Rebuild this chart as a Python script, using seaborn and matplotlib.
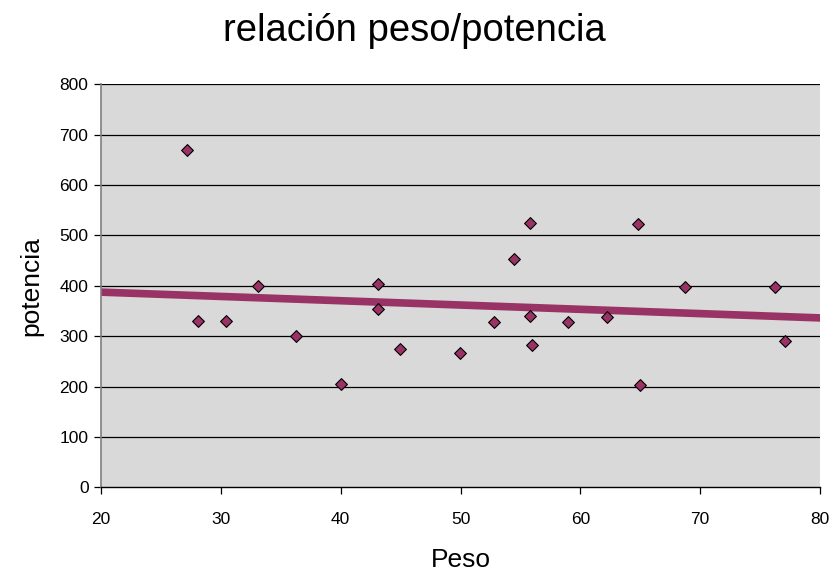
import numpy as np
import pandas as pd
import matplotlib
matplotlib.use("Agg")
import matplotlib.pyplot as plt
import seaborn as sns

peso = [27.15, 28.07, 30.46, 33.08, 36.28, 40.01, 43.1, 43.1, 44.98, 49.99, 52.8,
        54.45, 55.81, 55.81, 56.0, 59.0, 62.24, 64.85, 65.02, 68.72, 76.24, 77.04]
potencia = [670, 330, 330, 400, 300, 205, 403, 353, 275, 266, 328,
            453, 525, 340, 283, 328, 338, 523, 204, 398, 398, 290]
x_ticks = [20, 30, 40, 50, 60, 70, 80]
y_ticks = [0, 100, 200, 300, 400, 500, 600, 700, 800]

df = pd.DataFrame({"Peso": peso, "potencia": potencia})

sns.set_style("white")
plt.rcParams['font.family'] = ['Liberation Sans', 'DejaVu Sans']
plt.rcParams['text.color'] = 'black'
plt.rcParams['axes.labelcolor'] = 'black'
plt.rcParams['xtick.color'] = 'black'
plt.rcParams['ytick.color'] = 'black'

fig = plt.figure(figsize=(8.33, 5.72), dpi=100)
ax = fig.add_axes([101/833, (572-487.3)/572, 719/833, 403/572])
ax.set_facecolor('#D9D9D9')
ax.set_xlim(20, 80)
ax.set_ylim(0, 800)

for v in y_ticks[1:]:
    ax.axhline(v, color='black', lw=0.9, zorder=1)

sns.regplot(data=df, x="Peso", y="potencia", ax=ax, scatter=False, ci=None,
            truncate=False, color='#993366', line_kws=dict(lw=5.5, zorder=2))
sns.scatterplot(data=df, x="Peso", y="potencia", ax=ax, marker='D', s=36,
                color='#993366', edgecolor='black', linewidth=0.8, zorder=3)

ax.set_xlim(20, 80)
ax.set_ylim(0, 800)
ax.set_xticks(x_ticks)
ax.set_yticks(y_ticks)
ax.tick_params(axis='both', direction='out', length=5, width=0.9, color='black',
               labelsize=12.5, labelcolor='black', bottom=True, left=True)
ax.tick_params(axis='x', pad=13)
ax.tick_params(axis='y', pad=4)

for s in ['top', 'right']:
    ax.spines[s].set_visible(False)
ax.spines['left'].set_color('#808080')
ax.spines['left'].set_linewidth(1.2)
ax.spines['bottom'].set_color('black')
ax.spines['bottom'].set_linewidth(1.0)

ax.set_xlabel("Peso", fontsize=19, labelpad=15, color='black')
ax.set_ylabel("potencia", fontsize=19, labelpad=12, color='black')
fig.text(0.5 * (222 + 606) / 833, 1 - 31/572, "relación peso/potencia", fontsize=27.5,
         ha='center', va='center', color='black')

fig.savefig("out.png", dpi=100, facecolor='white')
